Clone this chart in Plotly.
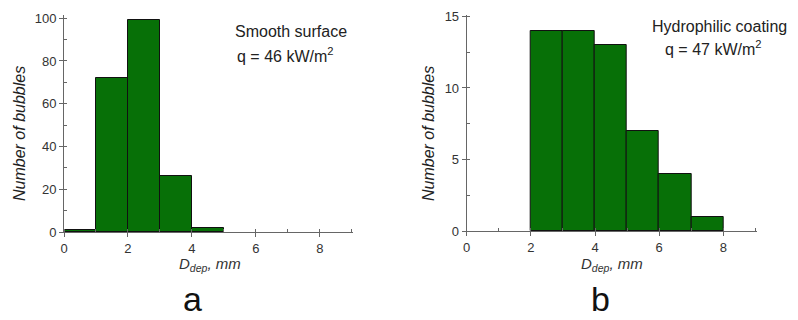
import plotly.graph_objects as go

# Data
bin_left_a = [0, 1, 2, 3, 4]
counts_a = [1, 72, 99, 26, 2]
bin_left_b = [2, 3, 4, 5, 6, 7]
counts_b = [14, 14, 13, 7, 4, 1]
x_ticks = [0, 2, 4, 6, 8]
y_ticks_a = [0, 20, 40, 60, 80, 100]
y_ticks_b = [0, 5, 10, 15]
label_a = ["Smooth surface", "q = 46 kW/m<sup>2</sup>"]
label_b = ["Hydrophilic coating", "q = 47 kW/m<sup>2</sup>"]

W, H = 798, 320
GREEN = "#077007"
FONT = "Liberation Sans, Arial, sans-serif"

def px(x):
    return x / W

def py(y):
    return 1 - y / H

fig = go.Figure()
fig.add_trace(go.Bar(x=[b + 0.5 for b in bin_left_a], y=counts_a, width=1,
                     marker=dict(color=GREEN, line=dict(color="#111", width=1)),
                     xaxis="x", yaxis="y", showlegend=False))
fig.add_trace(go.Bar(x=[b + 0.5 for b in bin_left_b], y=counts_b, width=1,
                     marker=dict(color=GREEN, line=dict(color="#111", width=1)),
                     xaxis="x2", yaxis="y2", showlegend=False))

axis_common = dict(showline=True, linecolor="#666", linewidth=1, showgrid=False,
                   zeroline=False, ticks="outside", ticklen=4, tickcolor="#666",
                   tickfont=dict(family=FONT, size=13, color="#333"))

xt = dict(tickmode="array", tickvals=x_ticks, range=[0, 9.04],
          minor=dict(dtick=1, tick0=0, ticks="inside", ticklen=3, tickcolor="#666"))

fig.update_layout(
    width=W, height=H, margin=dict(l=0, r=0, t=0, b=0, autoexpand=False),
    paper_bgcolor="white", plot_bgcolor="white", bargap=0,
    xaxis=dict(domain=[px(64), px(353)], anchor="y", **xt, **axis_common),
    yaxis=dict(domain=[py(232), py(15)], anchor="x", range=[0, 101.5], tickmode="array",
               tickvals=y_ticks_a,
               minor=dict(dtick=10, tick0=0, ticks="inside", ticklen=3, tickcolor="#666"),
               **axis_common),
    xaxis2=dict(domain=[px(466.7), px(756.7)], anchor="y2", **xt, **axis_common),
    yaxis2=dict(domain=[py(231), py(15)], anchor="x2", range=[0, 15.1], tickmode="array",
                tickvals=y_ticks_b,
                minor=dict(dtick=2.5, tick0=0, ticks="inside", ticklen=3, tickcolor="#666"),
                **axis_common),
)

def ann(text, x, y, size, italic=False, color="#222"):
    fig.add_annotation(text=f"<i>{text}</i>" if italic else text, x=px(x), y=py(y),
                       xref="paper", yref="paper", showarrow=False,
                       xanchor="center", yanchor="middle",
                       font=dict(family=FONT, size=size, color=color))

# inset labels
ann(label_a[0], 291, 31, 16)
ann(label_a[1], 285, 55, 16)
ann(label_b[0], 719, 26, 16)
ann(label_b[1], 713, 48, 16)

# axis titles
for xc in (19, 428):
    fig.add_annotation(text="<i>Number of bubbles</i>", x=px(xc), y=py(134),
                       xref="paper", yref="paper", showarrow=False, textangle=-90,
                       xanchor="center", yanchor="middle",
                       font=dict(family=FONT, size=16, color="#222"))
for xc in (210, 612):
    fig.add_annotation(text="<i>D</i><sub><i>dep</i></sub><i>, mm</i>", x=px(xc), y=py(264),
                       xref="paper", yref="paper", showarrow=False,
                       xanchor="center", yanchor="middle",
                       font=dict(family=FONT, size=15, color="#333"))

# panel letters
ann("a", 192, 299, 34, color="#111")
ann("b", 600, 299, 34, color="#111")

fig.write_html("out.html", config={"displayModeBar": False},
               post_script="document.body.style.margin='0';document.body.style.overflow='hidden';")
